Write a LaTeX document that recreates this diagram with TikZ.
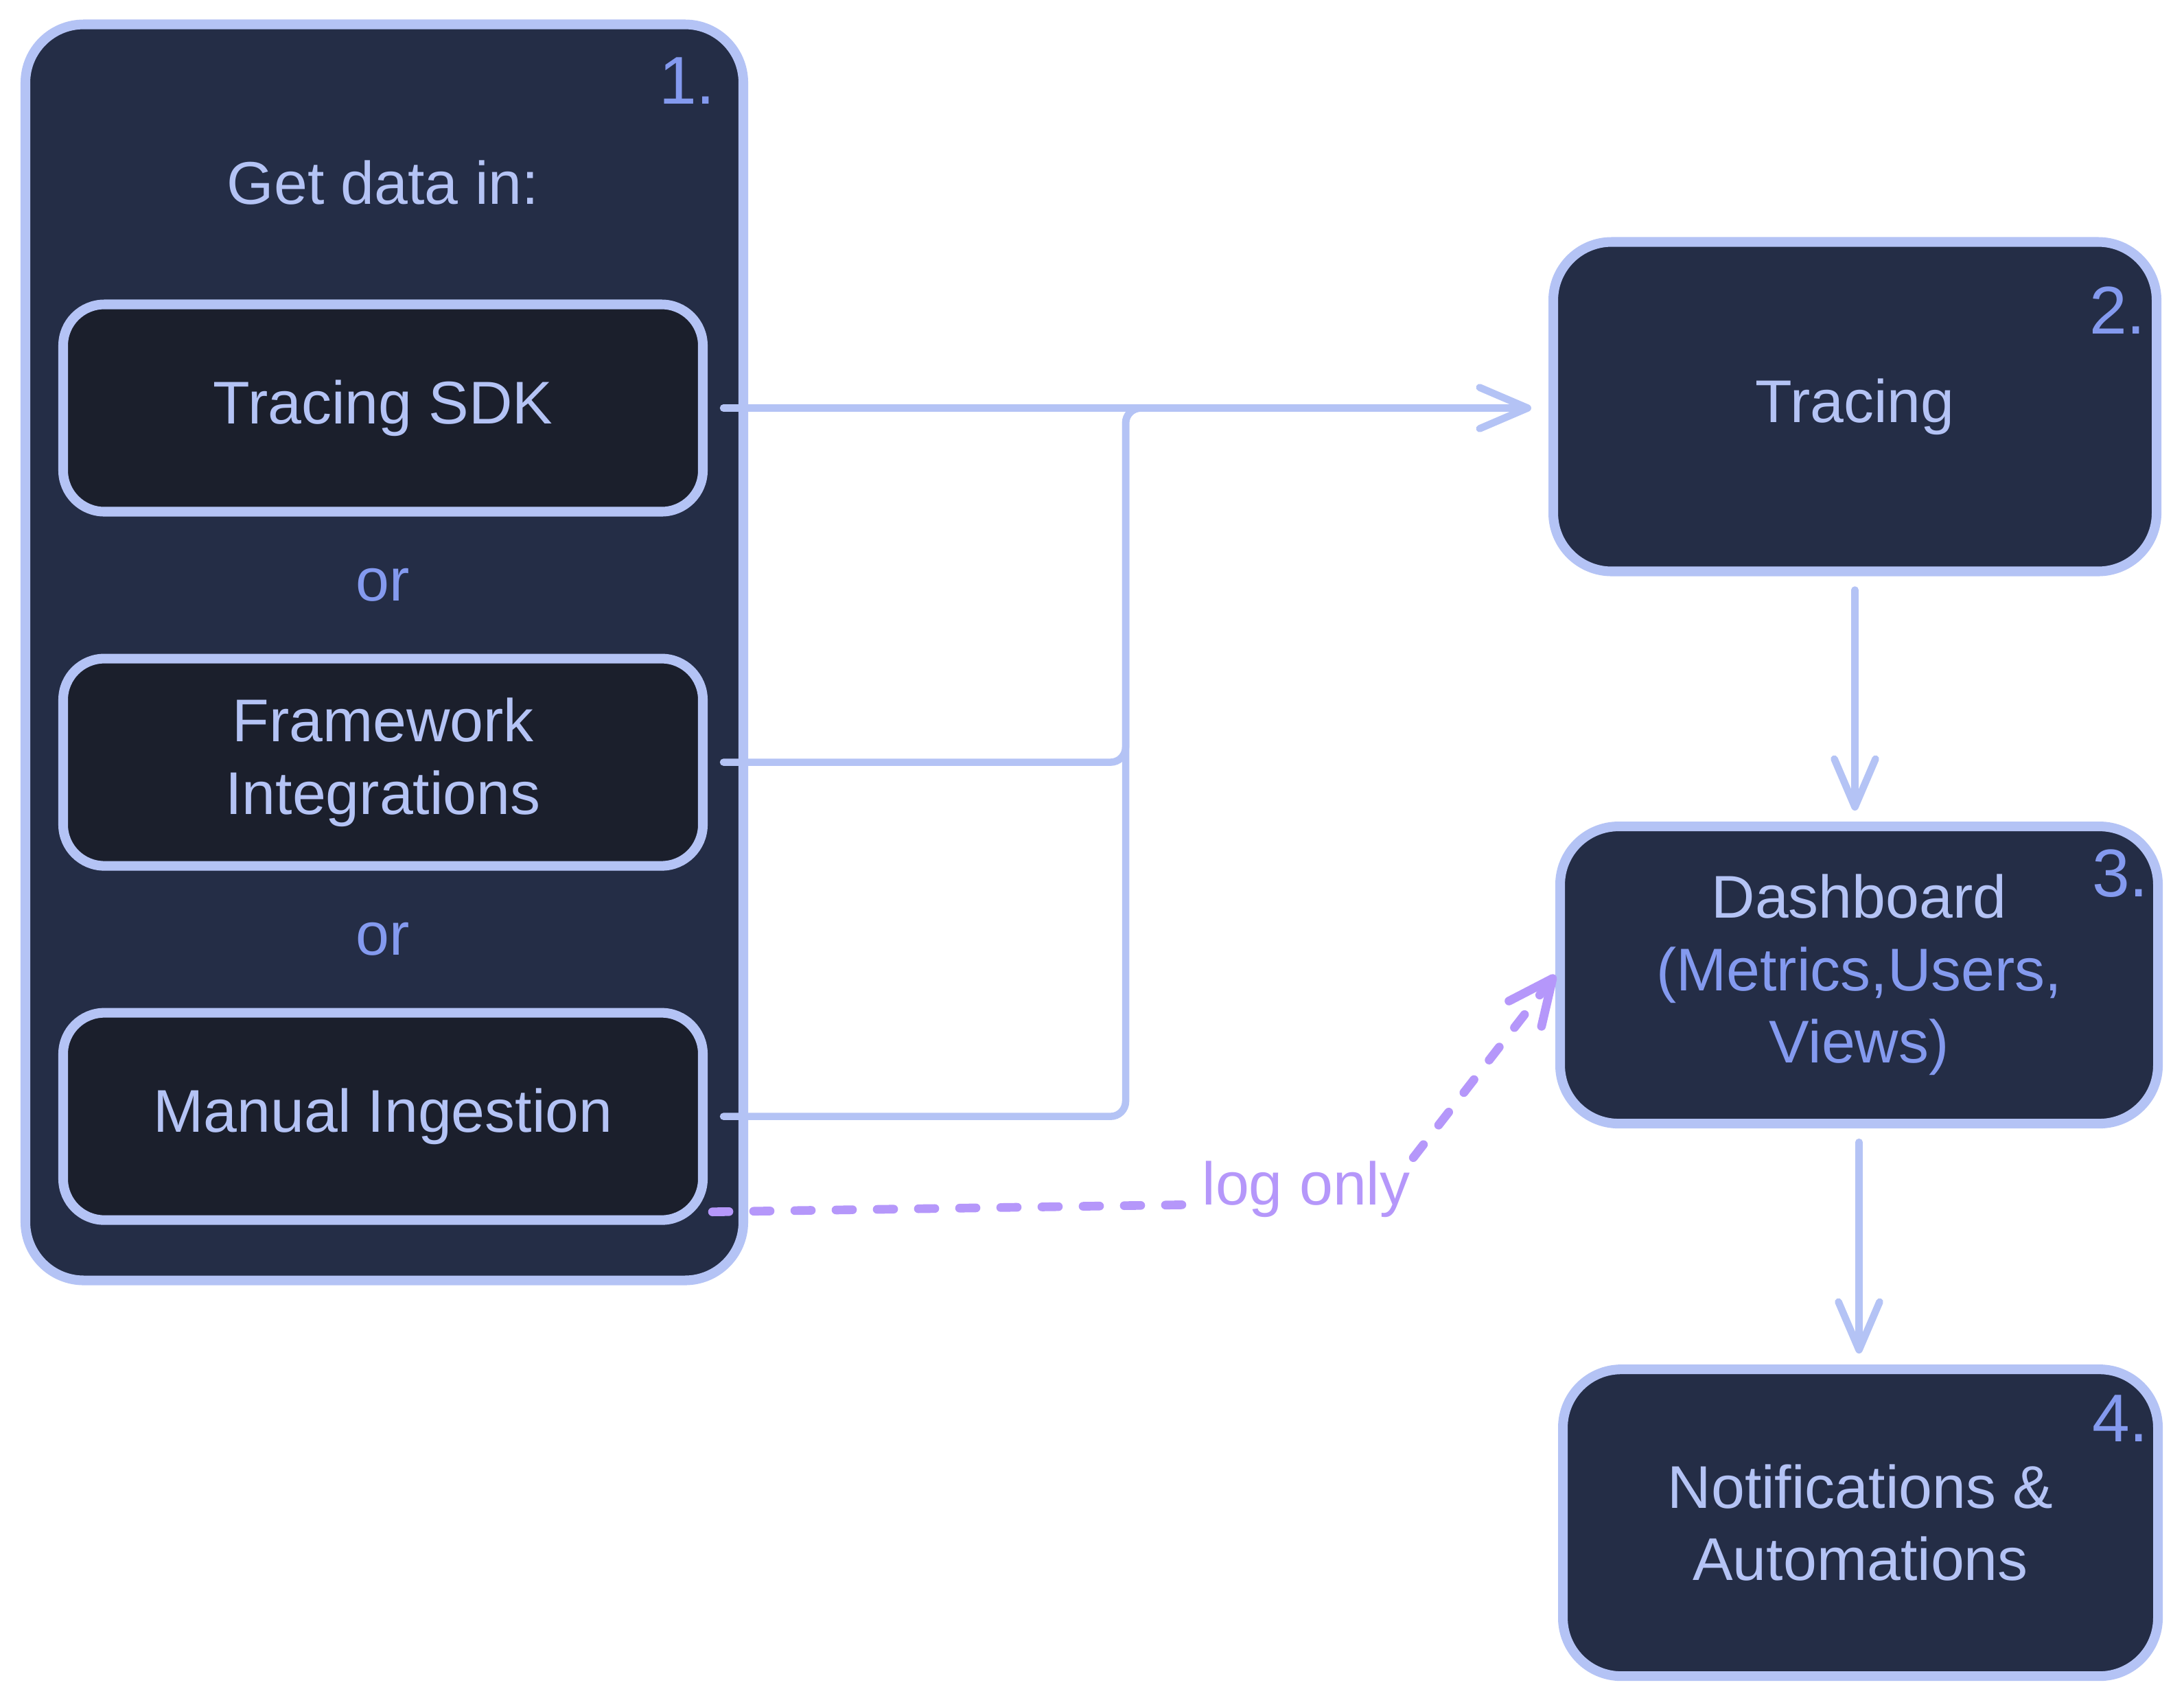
\documentclass[tikz,border=0pt]{standalone}
\usepackage{fontspec}
\setmainfont{Liberation Sans}
\usepackage{xcolor}
\usepackage{tikz}
\usetikzlibrary{arrows.meta,positioning,calc}

\definecolor{edgeblue}{RGB}{180,195,245}
\definecolor{numblue}{RGB}{132,154,239}
\definecolor{panelbg}{RGB}{36,45,70}
\definecolor{innerbg}{RGB}{27,31,44}
\definecolor{logpurple}{RGB}{181,151,250}

\begin{document}
\begin{tikzpicture}[
font=\fontsize{25}{30}\selectfont,
node distance=2.0cm,
panel/.style={draw=edgeblue, line width=4pt, fill=panelbg, rounded corners=0.85cm, align=center, text=edgeblue},
source/.style={draw=edgeblue, line width=4pt, fill=innerbg, rounded corners=0.6cm, minimum width=9.32cm, minimum height=3.02cm, align=center, text=edgeblue},
num/.style={text=numblue, font=\fontsize{28}{30}\selectfont},
ortext/.style={text=numblue},
conn/.style={draw=edgeblue, line width=3pt, line cap=round, rounded corners=0.22cm},
arr/.style={conn, -{Straight Barb[length=7mm,width=6mm,round]}},
logline/.style={draw=logpurple, line width=3.6pt, line cap=round, dash pattern=on 0.24cm off 0.36cm},
logarr/.style={logline, -{Straight Barb[length=6.5mm,width=6mm,round]}}
]
\path[use as bounding box, fill=white] (0,0) rectangle (31.82,-24.73);

\node[panel, minimum width=10.46cm, minimum height=18.30cm] (getdata) at (5.60,-9.505) {};
\node[text=edgeblue] (getin) at (5.58,-2.66) {Get data in:};
\node[num] (n1) at ([xshift=-0.89cm,yshift=-0.89cm]getdata.north east) {1.};
\node[source] (sdk) at (5.58,-5.945) {Tracing SDK};
\node[source, below=of sdk] (framework) {Framework\\Integrations};
\node[source, below=of framework] (manual) {Manual Ingestion};
\node[ortext] (or1) at ($(sdk.south)!0.5!(framework.north)$) {or};
\node[ortext] (or2) at ($(framework.south)!0.5!(manual.north)$) {or};

\node[panel, minimum width=8.79cm, minimum height=4.80cm] (tracing) at (27.025,-5.925) {Tracing};
\node[num] (n2) at ([xshift=-0.64cm,yshift=-1.07cm]tracing.north east) {2.};
\node[panel, minimum width=8.71cm, minimum height=4.33cm, below=3.575cm of tracing, xshift=0.06cm] (dashboard) {Dashboard\\\textcolor{numblue}{(Metrics,Users,}\\\textcolor{numblue}{Views)}};
\node[num] (n3) at ([xshift=-0.62cm,yshift=-0.76cm]dashboard.north east) {3.};
\node[panel, minimum width=8.67cm, minimum height=4.47cm, below=3.44cm of dashboard, xshift=0.02cm] (notify) {Notifications \&\\Automations};
\node[num] (n4) at ([xshift=-0.62cm,yshift=-0.79cm]notify.north east) {4.};

\coordinate (jx) at (16.40,-5.945);
\coordinate (jend) at (18.40,-5.945);
\node[text=logpurple, anchor=base, inner sep=0.04cm] (logtxt) at (19.03,-17.55) {log only};

\draw[arr] ([xshift=0.23cm]sdk.east) -- ([xshift=-0.25cm]tracing.west |- sdk.east);
\draw[conn] ([xshift=0.23cm]framework.east) -| (jx) -- (jend);
\draw[conn] ([xshift=0.23cm]manual.east) -| (jx) -- (jend);
\draw[arr] ([yshift=-0.20cm]tracing.south) -- ([yshift=0.16cm]dashboard.north -| tracing.south);
\draw[arr] ([yshift=-0.20cm]dashboard.south) -- ([yshift=0.16cm]notify.north -| dashboard.south);
\draw[logline] ([xshift=0.07cm,yshift=0.19cm]manual.south east) -- (logtxt.base west);
\draw[logarr] (logtxt.north east) -- (dashboard.west);
\end{tikzpicture}
\end{document}
